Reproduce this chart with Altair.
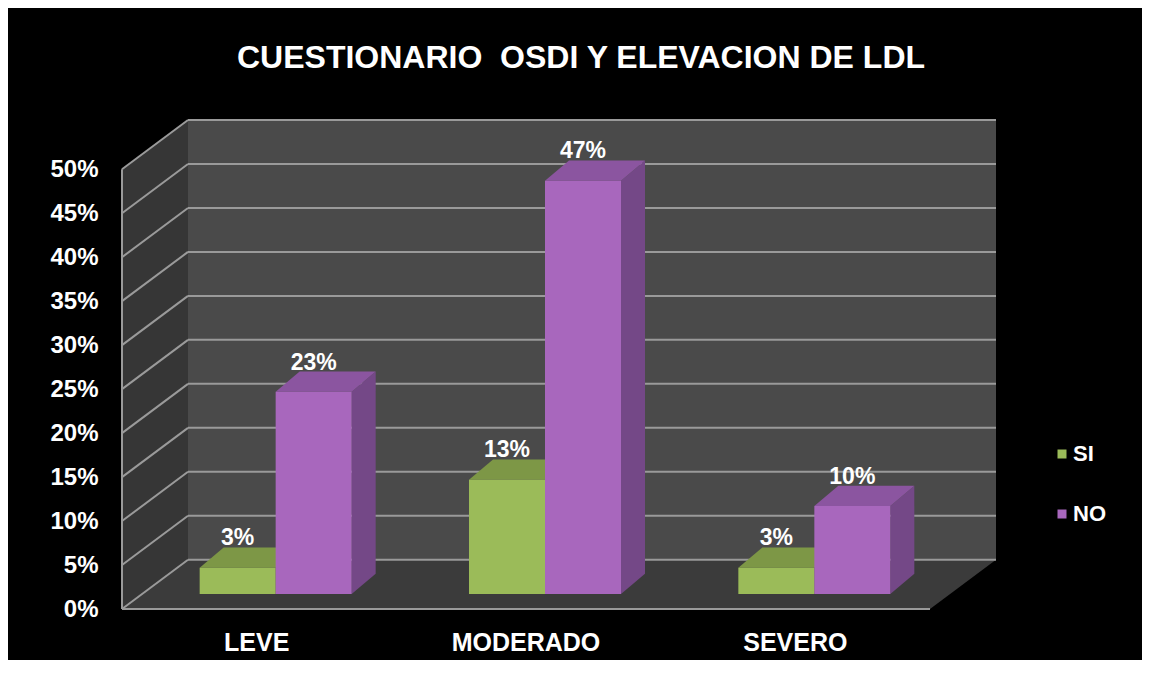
import altair as alt
import pandas as pd

# ---------------- data ----------------
categories = ["LEVE", "MODERADO", "SEVERO"]
series = ["SI", "NO"]
si_values = [3, 13, 3]
no_values = [23, 47, 10]
y_ticks = [0, 5, 10, 15, 20, 25, 30, 35, 40, 45, 50]
title_text = "CUESTIONARIO \u00a0OSDI Y ELEVACION DE LDL"

# ---------------- styling / 3D geometry ----------------
FONT = "Liberation Sans"
GREEN, GREEN_TOP, GREEN_SIDE = "#9bbb59", "#7d9746", "#6c843c"
PURPLE, PURPLE_TOP, PURPLE_SIDE = "#a867bd", "#8b55a0", "#744887"
BACK_WALL, LEFT_WALL, FLOOR = "#4a4a4a", "#363636", "#3b3b3b"
GRID = "#9a9a9a"

FRONT_W = 808      # width of the front plane (x units)
DEPTH_X = 66       # depth shift in x units
DEPTH_Y = 5.6      # depth shift in % units
Y_MAX = 50
BAR_W = 76
BAR_SHIFT_X = 19   # bars sit a bit behind the front plane
BAR_SHIFT_Y = 1.7
BAR_DX = 24        # bar depth
BAR_DY = 2.3

PLOT_W = FRONT_W + DEPTH_X
PLOT_H = 489

XS = alt.Scale(domain=[0, PLOT_W], nice=False, zero=False)
YS = alt.Scale(domain=[0, Y_MAX + DEPTH_Y], nice=False, zero=False)

y_axis = alt.Axis(values=y_ticks, labelExpr="datum.value + '%'", grid=False, domain=False,
                  ticks=False, labelFont=FONT, labelFontSize=24, labelFontWeight="bold",
                  labelColor="white", labelPadding=24, title=None)


def X(f="x"):
    return alt.X(f + ":Q", scale=XS, axis=None)


def Y(f="y"):
    return alt.Y(f + ":Q", scale=YS, axis=y_axis, stack=None)


# ---------------- build tables ----------------
fronts, tops, sides = [], [], []
n = len(categories)
for i, cat in enumerate(categories):
    c = (i + 0.5) * FRONT_W / n
    for j, (s, vals) in enumerate(zip(series, [si_values, no_values])):
        v = vals[i]
        x0 = c - BAR_W + j * BAR_W + BAR_SHIFT_X
        x1 = x0 + BAR_W
        base = BAR_SHIFT_Y
        top = base + v
        bid = f"{cat}-{s}"
        topc = GREEN_TOP if s == "SI" else PURPLE_TOP
        sidec = GREEN_SIDE if s == "SI" else PURPLE_SIDE
        fronts.append(dict(id=bid, series=s, x=x0, x2=x1, y=base, y2=top,
                           xm=(x0 + x1) / 2, ylab=top + BAR_DY, label=f"{v}%"))
        for (xx, ya, yb) in [(x0, top, top), (x0 + BAR_DX, top, top + BAR_DY),
                             (x1, top, top + BAR_DY), (x1 + BAR_DX, top + BAR_DY, top + BAR_DY)]:
            tops.append(dict(id=bid, x=xx, y=ya, y2=yb, fill=topc))
        for (xx, ya, yb) in [(x1, base, top), (x1 + BAR_DX, base + BAR_DY, top + BAR_DY)]:
            sides.append(dict(id=bid, x=xx, y=ya, y2=yb, fill=sidec))

fronts = pd.DataFrame(fronts)
tops = pd.DataFrame(tops)
sides = pd.DataFrame(sides)

cat_df = pd.DataFrame({"cat": categories,
                       "x": [(i + 0.5) * FRONT_W / n for i in range(n)],
                       "y": [0] * n})

back_df = pd.DataFrame({"x": [DEPTH_X], "x2": [PLOT_W], "y": [DEPTH_Y], "y2": [Y_MAX + DEPTH_Y]})
left_df = pd.DataFrame({"x": [0, DEPTH_X], "y": [0, DEPTH_Y], "y2": [Y_MAX, Y_MAX + DEPTH_Y]})
floor_df = pd.DataFrame({"x": [0, DEPTH_X, FRONT_W, PLOT_W],
                         "y": [0, 0, 0, DEPTH_Y],
                         "y2": [0, DEPTH_Y, DEPTH_Y, DEPTH_Y]})
grid_back = pd.DataFrame({"x": [DEPTH_X] * len(y_ticks), "x2": [PLOT_W] * len(y_ticks),
                          "y": [t + DEPTH_Y for t in y_ticks], "y2": [t + DEPTH_Y for t in y_ticks]})
grid_left = pd.DataFrame({"x": [0] * len(y_ticks), "x2": [DEPTH_X] * len(y_ticks),
                          "y": y_ticks, "y2": [t + DEPTH_Y for t in y_ticks]})
edges = pd.DataFrame({"x": [0, 0], "x2": [FRONT_W, 0], "y": [0, 0], "y2": [0, Y_MAX]})

# ---------------- layers ----------------
back = alt.Chart(back_df).mark_rect(color=BACK_WALL).encode(
    x=X(), x2="x2:Q", y=Y(), y2="y2:Q")
left = alt.Chart(left_df).mark_area(color=LEFT_WALL).encode(x=X(), y=Y(), y2="y2:Q")
floor = alt.Chart(floor_df).mark_area(color=FLOOR).encode(x=X(), y=Y(), y2="y2:Q")
gb = alt.Chart(grid_back).mark_rule(color=GRID, strokeWidth=2).encode(
    x=X(), x2="x2:Q", y=Y(), y2="y2:Q")
gl = alt.Chart(grid_left).mark_rule(color=GRID, strokeWidth=2).encode(
    x=X(), x2="x2:Q", y=Y(), y2="y2:Q")
ed = alt.Chart(edges).mark_rule(color=GRID, strokeWidth=2).encode(
    x=X(), x2="x2:Q", y=Y(), y2="y2:Q")

top_faces = alt.Chart(tops).mark_area(interpolate="linear").encode(
    x=X(), y=Y(), y2="y2:Q", detail="id:N", fill=alt.Fill("fill:N", scale=None))
side_faces = alt.Chart(sides).mark_area(interpolate="linear").encode(
    x=X(), y=Y(), y2="y2:Q", detail="id:N", fill=alt.Fill("fill:N", scale=None))

front_faces = alt.Chart(fronts).mark_rect().encode(
    x=X(), x2="x2:Q", y=Y(), y2="y2:Q",
    color=alt.Color("series:N", scale=alt.Scale(domain=series, range=[GREEN, PURPLE]),
                    legend=alt.Legend(title=None, orient="none", legendX=929, legendY=323,
                                      symbolType="square", symbolSize=81, symbolStrokeWidth=0,
                                      labelFont=FONT, labelFontSize=22, labelFontWeight="bold",
                                      labelColor="white", labelOffset=0, rowPadding=38,
                                      padding=0)))

value_labels = alt.Chart(fronts).mark_text(
    font=FONT, fontSize=23, fontWeight="bold", color="white", baseline="alphabetic", dy=-2
).encode(x=X("xm"), y=Y("ylab"), text="label:N")

cat_labels = alt.Chart(cat_df).mark_text(
    font=FONT, fontSize=25, fontWeight="bold", color="white", baseline="middle", dy=34
).encode(x=X(), y=Y(), text="cat:N")

chart = alt.layer(
    back, left, floor, gb, gl, ed, side_faces, top_faces, front_faces, value_labels, cat_labels
).properties(
    width=PLOT_W, height=PLOT_H,
    background="black",
    autosize=alt.AutoSizeParams(type="none"),
    padding={"left": 114, "top": 112, "right": 146, "bottom": 51},
    title=alt.TitleParams(title_text, font=FONT, fontSize=32, fontWeight="bold", color="white",
                          anchor="middle", dx=22, offset=44),
).configure_view(stroke=None)

chart.save("out.html", embed_options={"renderer": "svg", "actions": False})
